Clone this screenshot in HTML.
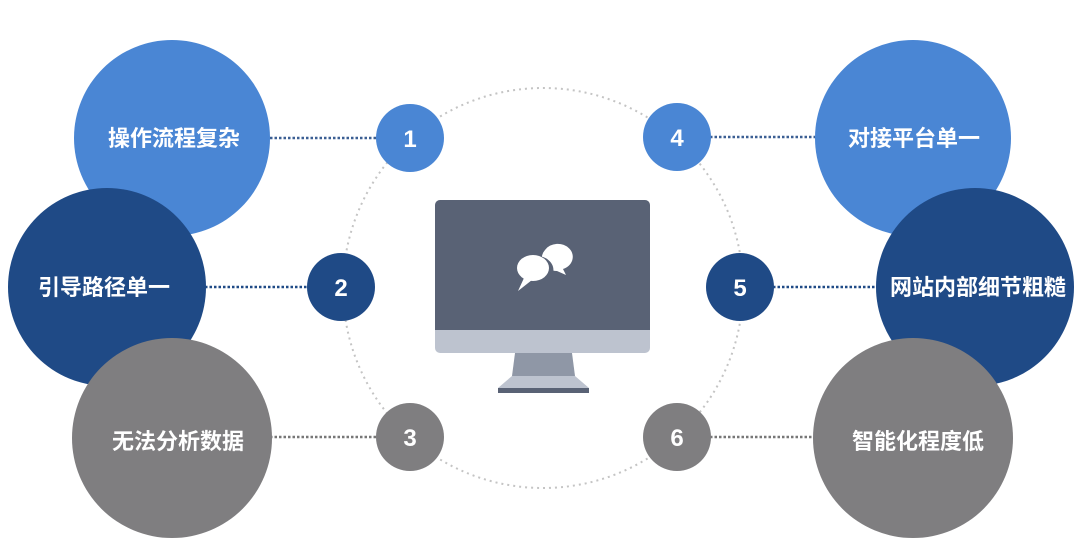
<!DOCTYPE html>
<html><head><meta charset="utf-8"><style>
html,body{margin:0;padding:0;background:#fff;}
svg{display:block}
text{font-family:"Liberation Sans","Noto Sans CJK SC",sans-serif;font-weight:bold;fill:#fff;}
</style></head><body>
<svg width="1080" height="560" viewBox="0 0 1080 560" xmlns="http://www.w3.org/2000/svg">
<circle cx="543" cy="288" r="200" fill="none" stroke="#c4c4c4" stroke-width="2" stroke-dasharray="2 4"/>
<g stroke-width="2.5" stroke-dasharray="2.5 2">
<line x1="270" y1="138" x2="377" y2="138" stroke="#3b5f93"/>
<line x1="205" y1="287" x2="307" y2="287" stroke="#1f4a86"/>
<line x1="270" y1="437" x2="377" y2="437" stroke="#777"/>
<line x1="710" y1="137" x2="815" y2="137" stroke="#3b5f93"/>
<line x1="773" y1="287" x2="877" y2="287" stroke="#1f4a86"/>
<line x1="710" y1="437" x2="815" y2="437" stroke="#777"/>
</g>
<circle cx="172" cy="138" r="98" fill="#4a86d4"/>
<circle cx="107" cy="287" r="99" fill="#1f4a86"/>
<circle cx="172" cy="438" r="100" fill="#7f7e80"/>
<circle cx="913" cy="138" r="98" fill="#4a86d4"/>
<circle cx="975" cy="287" r="99" fill="#1f4a86"/>
<circle cx="913" cy="438" r="100" fill="#7f7e80"/>
<g font-size="22" text-anchor="middle">
<text x="174" y="146">操作流程复杂</text>
<text x="104" y="295">引导路径单一</text>
<text x="178" y="449">无法分析数据</text>
<text x="914" y="146">对接平台单一</text>
<text x="978" y="295">网站内部细节粗糙</text>
<text x="918" y="449">智能化程度低</text>
</g>
<circle cx="410" cy="138" r="34" fill="#4a86d4"/>
<circle cx="341" cy="287" r="34" fill="#1f4a86"/>
<circle cx="410" cy="437" r="34" fill="#7f7e80"/>
<circle cx="677" cy="137" r="34" fill="#4a86d4"/>
<circle cx="740" cy="287" r="34" fill="#1f4a86"/>
<circle cx="677" cy="437" r="34" fill="#7f7e80"/>
<g font-size="24" text-anchor="middle">
<text x="410" y="147">1</text>
<text x="341" y="296">2</text>
<text x="410" y="446">3</text>
<text x="677" y="146">4</text>
<text x="740" y="296">5</text>
<text x="677" y="446">6</text>
</g>
<rect x="435" y="200" width="215" height="153" rx="5" fill="#bdc3cf"/>
<path d="M440 200 H645 A5 5 0 0 1 650 205 V330 H435 V205 A5 5 0 0 1 440 200Z" fill="#596275"/>
<path d="M515 353 H572 L575 376 H512Z" fill="#8f97a6"/>
<path d="M512 376 H575 L589 388 H498Z" fill="#bdc3cf"/>
<rect x="498" y="388" width="91" height="5" fill="#596275"/>
<path d="M545 250 a15 13 0 1 1 18 19 l3 6 l-9 -4 a15 13 0 0 1 -12 -21z" fill="#fff"/>
<path d="M538 256 a17 14 0 1 1 -12 25 l-6 8 l2 -10 a17 14 0 0 1 16 -23z" fill="#596275"/>
<ellipse cx="533" cy="268" rx="16" ry="13" fill="#fff"/>
<path d="M524 278 L518 291 L532 280Z" fill="#fff"/>
</svg>
</body></html>
